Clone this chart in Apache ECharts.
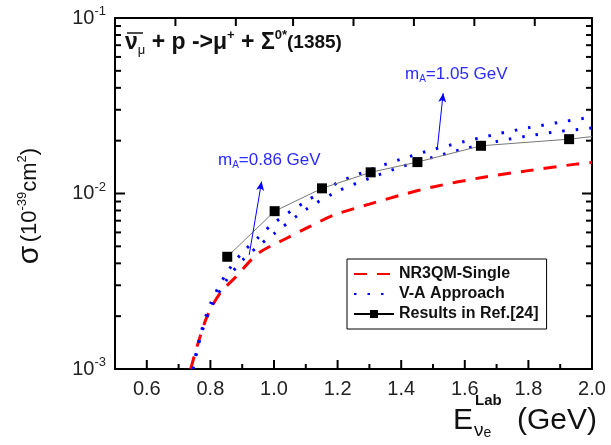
<!DOCTYPE html>
<html>
<head>
<meta charset="utf-8">
<script src="https://cdn.jsdelivr.net/npm/echarts@6/dist/echarts.min.js"></script>
<style>
  html, body { margin: 0; padding: 0; background: #fff; }
  #chart { width: 611px; height: 445px; }
</style>
</head>
<body>
<div id="chart"></div>
<script>
// NR3QM-Single (red dashed)
const nrX = [0.738, 0.76, 0.79, 0.83, 0.88, 0.95, 1.04, 1.11, 1.19, 1.3, 1.4, 1.5, 1.65, 1.8, 1.95, 2.0]
const nrY = [0.001, 0.00138, 0.002, 0.0027, 0.00335, 0.00455, 0.00556, 0.00645, 0.00755, 0.0087, 0.0098, 0.0109, 0.0123, 0.0135, 0.0147, 0.015]
// V-A approach, mA = 1.05 GeV (upper blue dotted)
const va105X = [0.745, 0.77, 0.8, 0.85, 0.9, 0.95, 1.0, 1.1, 1.2, 1.3, 1.4, 1.5, 1.6, 1.7, 1.8, 1.9, 2.0]
const va105Y = [0.001, 0.0016, 0.00235, 0.0035, 0.0046, 0.0056, 0.0068, 0.009, 0.0115, 0.0136, 0.0157, 0.0178, 0.0198, 0.0218, 0.0237, 0.0255, 0.0273]
// V-A approach, mA = 0.86 GeV (lower blue dotted)
const va086X = [0.745, 0.77, 0.8, 0.85, 0.9, 0.95, 1.0, 1.1, 1.2, 1.3, 1.4, 1.5, 1.6, 1.7, 1.8, 1.9, 2.0]
const va086Y = [0.001, 0.00155, 0.0022, 0.0032, 0.00415, 0.005, 0.0059, 0.0081, 0.0103, 0.0122, 0.0142, 0.0161, 0.018, 0.0198, 0.0213, 0.0226, 0.0236]
// Results in Ref.[24] (black squares)
const refX = [0.853, 1.002, 1.151, 1.304, 1.451, 1.651, 1.928]
const refY = [0.00436, 0.00793, 0.0107, 0.0132, 0.0151, 0.0187, 0.0204]
const refTail = [2.0, 0.0211]

// ticks
const xLabelTicks = [0.6, 0.8, 1.0, 1.2, 1.4, 1.6, 1.8, 2.0]
const xMinorTicks = [0.7, 0.9, 1.1, 1.3, 1.5, 1.7, 1.9]
const xTopTicks = [0.69, 0.88, 1.06, 1.25, 1.44, 1.63, 1.82]
const yMajorTicks = [0.001, 0.01, 0.1]
const yMinorTicks = [0.002, 0.003, 0.004, 0.005, 0.006, 0.007, 0.008, 0.009,
  0.02, 0.03, 0.04, 0.05, 0.06, 0.07, 0.08, 0.09]

const FONT = 'Liberation Sans'
const BLUE = '#0000ff'
const RED = '#ff0000'
const ANNO = '#2b2bff'

const pairs = (xs, ys) => xs.map((x, i) => [x, ys[i]])

// tick marks drawn inside the frame through the axes' own scales
function xTicks(values, len, side) {
  return {
    type: 'custom', silent: true, z: 5,
    data: values.map(v => [v, 0.01]),
    renderItem: (params, api) => {
      const cs = params.coordSys
      const x = api.coord([api.value(0), 0.01])[0]
      const y0 = side === 'bottom' ? cs.y + cs.height : cs.y
      const y1 = side === 'bottom' ? y0 - len : y0 + len
      return { type: 'line', shape: { x1: x, y1: y0, x2: x, y2: y1 }, style: { stroke: '#000', lineWidth: 2 } }
    }
  }
}
function yTicks(values, len, side) {
  return {
    type: 'custom', silent: true, z: 5,
    data: values.map(v => [1.0, v]),
    renderItem: (params, api) => {
      const cs = params.coordSys
      const y = api.coord([1.0, api.value(1)])[1]
      const x0 = side === 'left' ? cs.x : cs.x + cs.width
      const x1 = side === 'left' ? x0 + len : x0 - len
      return { type: 'line', shape: { x1: x0, y1: y, x2: x1, y2: y }, style: { stroke: '#000', lineWidth: 2 } }
    }
  }
}

const myChart = echarts.init(document.getElementById('chart'))

myChart.setOption({
  animation: false,
  textStyle: { fontFamily: FONT },
  grid: { left: 115, right: 19, top: 18, bottom: 76 },
  xAxis: [
    {
      type: 'value', min: 0.5, max: 2.0, position: 'bottom',
      splitLine: { show: false },
      axisLine: { lineStyle: { color: '#000', width: 2 } },
      axisTick: { show: false },
      axisLabel: { customValues: xLabelTicks, color: '#222', fontSize: 20, margin: 10,
        formatter: v => v.toFixed(1) }
    },
    {
      type: 'value', min: 0.5, max: 2.0, position: 'top',
      splitLine: { show: false },
      axisLine: { lineStyle: { color: '#000', width: 2 } },
      axisTick: { show: false },
      axisLabel: { show: false }
    }
  ],
  yAxis: [
    {
      type: 'log', logBase: 10, min: 0.001, max: 0.1, position: 'left',
      splitLine: { show: false },
      axisLine: { show: true, lineStyle: { color: '#000', width: 2 } },
      axisTick: { show: false },
      axisLabel: {
        customValues: yMajorTicks, margin: 9,
        formatter: v => '{b|10}{s|' + Math.round(Math.log10(v)) + '}',
        rich: {
          b: { fontSize: 20, color: '#222', fontFamily: FONT },
          s: { fontSize: 13, color: '#222', fontFamily: FONT, padding: [0, 0, 13, 0] }
        }
      }
    },
    {
      type: 'log', logBase: 10, min: 0.001, max: 0.1, position: 'right',
      splitLine: { show: false },
      axisLine: { show: true, lineStyle: { color: '#000', width: 2 } },
      axisTick: { show: false },
      axisLabel: { show: false }
    }
  ],
  legend: {
    orient: 'vertical',
    left: 347,
    top: 259,
    padding: [7, 8, 7, 6],
    itemGap: 4,
    itemWidth: 40,
    itemHeight: 10,
    borderColor: '#000',
    borderWidth: 1,
    textStyle: { fontSize: 16, fontWeight: 'bold', color: '#111', fontFamily: FONT },
    data: [
      { name: 'NR3QM-Single', itemStyle: { opacity: 0 } },
      { name: 'V-A Approach', itemStyle: { opacity: 0 } },
      { name: 'Results in Ref.[24]', lineStyle: { color: '#000' } }
    ]
  },
  series: [
    {
      name: 'NR3QM-Single',
      type: 'line',
      smooth: 0.3,
      symbol: 'none',
      lineStyle: { color: RED, width: 3, type: [13, 10] },
      itemStyle: { color: RED },
      data: pairs(nrX, nrY)
    },
    {
      name: 'V-A Approach',
      type: 'line',
      smooth: 0.3,
      symbol: 'none',
      lineStyle: { color: BLUE, width: 3, type: [2.5, 11] },
      itemStyle: { color: BLUE },
      data: pairs(va105X, va105Y),
      markLine: {
        silent: true,
        symbol: ['none', 'arrow'],
        symbolSize: [6, 9],
        label: { show: false },
        lineStyle: { color: BLUE, width: 1, type: 'solid' },
        data: [
          [{ coord: [0.922, 0.00447] }, { coord: [0.961, 0.0117] }],
          [{ coord: [1.514, 0.0183] }, { coord: [1.532, 0.0373] }]
        ]
      }
    },
    {
      name: 'V-A Approach',
      type: 'line',
      smooth: 0.3,
      symbol: 'none',
      lineStyle: { color: BLUE, width: 3, type: [2.5, 11] },
      itemStyle: { color: BLUE },
      data: pairs(va086X, va086Y)
    },
    {
      name: 'Results in Ref.[24]',
      type: 'line',
      symbol: 'rect',
      symbolSize: 10,
      lineStyle: { color: '#777', width: 1 },
      itemStyle: { color: '#000' },
      data: pairs(refX, refY).concat([{ value: refTail, symbol: 'none' }])
    },
    xTicks(xLabelTicks, 9, 'bottom'),
    xTicks(xMinorTicks, 5, 'bottom'),
    xTicks(xTopTicks, 8, 'top'),
    yTicks(yMajorTicks, 10, 'left'),
    yTicks(yMinorTicks, 6, 'left'),
    yTicks(yMajorTicks, 10, 'right'),
    yTicks(yMinorTicks, 6, 'right')
  ],
  graphic: [
    {
      type: 'text', left: 125, top: 29,
      style: {
        text: '{b|ν}{sub|μ}{b| + p ->μ}{sup|+}{b| + Σ}{sup|0*}{c|(1385)}',
        rich: {
          b: { fontSize: 23, fontWeight: 'bold', fill: '#111', fontFamily: FONT },
          c: { fontSize: 19, fontWeight: 'bold', fill: '#111', fontFamily: FONT },
          sub: { fontSize: 13, fill: '#111', fontFamily: FONT, padding: [14, 0, 0, 0] },
          sup: { fontSize: 13, fontWeight: 'bold', fill: '#111', fontFamily: FONT, padding: [0, 0, 15, 0] }
        }
      }
    },
    {
      type: 'line',
      shape: { x1: 127, y1: 33, x2: 143, y2: 33 },
      style: { stroke: '#111', lineWidth: 1.5 }
    },
    {
      type: 'text', left: 218, top: 152,
      style: {
        text: '{a|m}{s|A}{a|=0.86 GeV}',
        rich: {
          a: { fontSize: 17, fill: ANNO, fontFamily: FONT },
          s: { fontSize: 10, fill: ANNO, fontFamily: FONT, padding: [10, 0, 0, 0] }
        }
      }
    },
    {
      type: 'text', left: 405, top: 66,
      style: {
        text: '{a|m}{s|A}{a|=1.05 GeV}',
        rich: {
          a: { fontSize: 17, fill: ANNO, fontFamily: FONT },
          s: { fontSize: 10, fill: ANNO, fontFamily: FONT, padding: [10, 0, 0, 0] }
        }
      }
    },
    {
      type: 'text', x: 30, y: 206, rotation: Math.PI / 2,
      style: {
        text: '{a|σ} {b|(10}{s|-39}{b|cm}{s|2}{b|)}',
        align: 'center', verticalAlign: 'middle',
        rich: {
          a: { fontSize: 30, fill: '#111', fontFamily: FONT },
          b: { fontSize: 22, fill: '#111', fontFamily: FONT },
          s: { fontSize: 13, fill: '#111', fontFamily: FONT, padding: [0, 0, 15, 0] }
        }
      }
    },
    {
      type: 'text', left: 453, top: 406,
      style: { text: 'E', fontSize: 30, fill: '#111', fontFamily: FONT }
    },
    {
      type: 'text', left: 475, top: 393,
      style: { text: 'Lab', fontSize: 15, fontWeight: 'bold', fill: '#111', fontFamily: FONT }
    },
    {
      type: 'text', left: 474, top: 421,
      style: {
        text: '{a|ν}{b|e}',
        rich: {
          a: { fontSize: 19, fill: '#111', fontFamily: FONT },
          b: { fontSize: 14, fill: '#111', fontFamily: FONT, padding: [6, 0, 0, 0] }
        }
      }
    },
    {
      type: 'text', left: 517, top: 406,
      style: { text: '(GeV)', fontSize: 30, fill: '#111', fontFamily: FONT }
    }
  ]
})
</script>
</body>
</html>
